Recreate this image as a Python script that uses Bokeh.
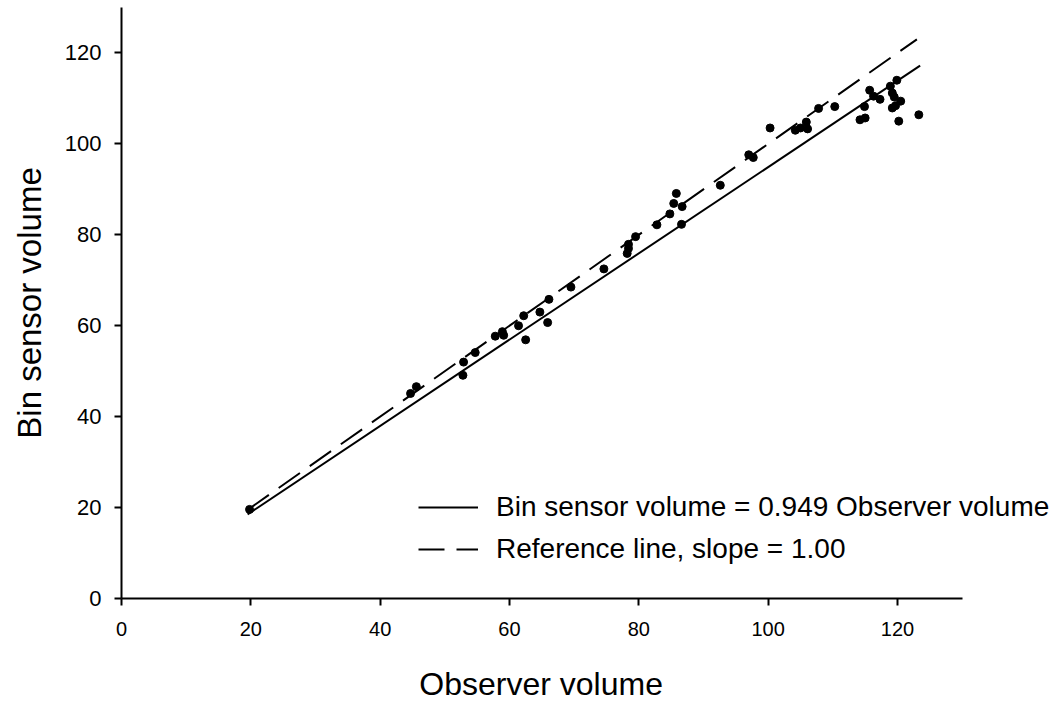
from bokeh.plotting import figure
from bokeh.models import Range1d, FixedTicker, Legend, LegendItem, ColumnDataSource
from bokeh.embed import file_html
from bokeh.resources import INLINE

observer = [19.8, 44.7, 45.6, 52.8, 52.9, 54.7, 57.8, 58.9, 59.1, 61.4, 62.2, 62.5,
            64.7, 65.9, 66.1, 69.5, 74.6, 78.2, 78.4, 78.4, 79.5, 82.8, 84.8, 85.4,
            85.8, 86.7, 86.6, 92.6, 97.0, 97.7, 100.3, 104.2, 105.0, 105.9, 106.1,
            107.8, 110.3, 114.9, 114.2, 115.0, 115.7, 116.3, 117.3, 118.9, 119.9,
            119.2, 120.5, 119.2, 119.7, 120.2, 123.3, 119.5]
bin_sensor = [19.6, 45.1, 46.6, 49.1, 52.0, 54.1, 57.7, 58.7, 57.9, 60.0, 62.2, 56.9,
              63.0, 60.7, 65.8, 68.5, 72.5, 75.9, 77.9, 77.0, 79.6, 82.2, 84.6, 86.9,
              89.1, 86.2, 82.3, 90.9, 97.6, 97.0, 103.5, 103.0, 103.5, 104.8, 103.3,
              107.8, 108.2, 108.2, 105.3, 105.7, 111.8, 110.5, 109.8, 112.7, 114.0,
              111.2, 109.4, 107.9, 108.4, 105.0, 106.4, 110.3]

fit_slope = 0.949
ref_slope = 1.00
fit_x = [19.5, 123.5]
ref_x = [19.5, 123.0]

x_ticks = [0, 20, 40, 60, 80, 100, 120]
y_ticks = [0, 20, 40, 60, 80, 100, 120]
x_axis_max = 130
y_axis_max = 130

x_title = "Observer volume"
y_title = "Bin sensor volume"
fit_label = "Bin sensor volume = 0.949 Observer volume"
ref_label = "Reference line, slope = 1.00"

FONT = "Liberation Sans"

# frame spans to the right edge so the legend text is not clipped;
# the x axis itself is bounded to 0..130
p = figure(width=1058, height=704, output_backend="svg", toolbar_location=None,
           x_range=Range1d(0, 144.9), y_range=Range1d(0, y_axis_max),
           min_border_left=121, min_border_right=0, min_border_top=7,
           min_border_bottom=104)
p.xgrid.visible = False
p.ygrid.visible = False
p.outline_line_color = None
p.background_fill_color = "white"
p.border_fill_color = "white"

fit_src = ColumnDataSource(dict(x=fit_x, y=[fit_slope * v for v in fit_x]))
ref_src = ColumnDataSource(dict(x=ref_x, y=[ref_slope * v for v in ref_x]))

r_fit = p.line("x", "y", source=fit_src, line_color="black", line_width=2)
r_ref = p.line("x", "y", source=ref_src, line_color="black", line_width=2,
               line_dash="26 12")
p.scatter(observer, bin_sensor, size=8, color="black")

for ax in (p.xaxis[0], p.yaxis[0]):
    ax.axis_line_width = 2
    ax.axis_line_color = "black"
    ax.major_tick_line_width = 2
    ax.major_tick_out = 7
    ax.major_tick_in = 0
    ax.minor_tick_out = 0
    ax.minor_tick_in = 0
    ax.major_label_text_font = FONT
    ax.major_label_text_color = "black"
    ax.axis_label_text_font = FONT
    ax.axis_label_text_font_style = "normal"
    ax.axis_label_text_color = "black"

p.xaxis.bounds = (0, x_axis_max)
p.xaxis.major_label_text_font_size = "20px"
p.yaxis.major_label_text_font_size = "22px"
p.xaxis.axis_label_text_font_size = "32px"
p.yaxis.axis_label_text_font_size = "33px"
p.xaxis.ticker = FixedTicker(ticks=x_ticks)
p.yaxis.ticker = FixedTicker(ticks=y_ticks)
# trailing no-break spaces shift the centred title left, under the bounded axis
p.xaxis.axis_label = x_title + "\u00a0" * 11
p.yaxis.axis_label = y_title
p.xaxis.major_label_standoff = 16
p.yaxis.major_label_standoff = 13
p.xaxis.axis_label_standoff = 27
p.yaxis.axis_label_standoff = 14

legend = Legend(items=[LegendItem(label=fit_label, renderers=[r_fit]),
                       LegendItem(label=ref_label, renderers=[r_ref])],
                location=(297, 33), orientation="vertical",
                glyph_width=60, glyph_height=30, label_standoff=18,
                spacing=10, padding=0, margin=0,
                label_text_font=FONT, label_text_font_size="28px",
                label_text_color="black",
                border_line_color=None, background_fill_alpha=0)
p.add_layout(legend, "center")

open("out.html", "w").write(file_html(p, INLINE))
